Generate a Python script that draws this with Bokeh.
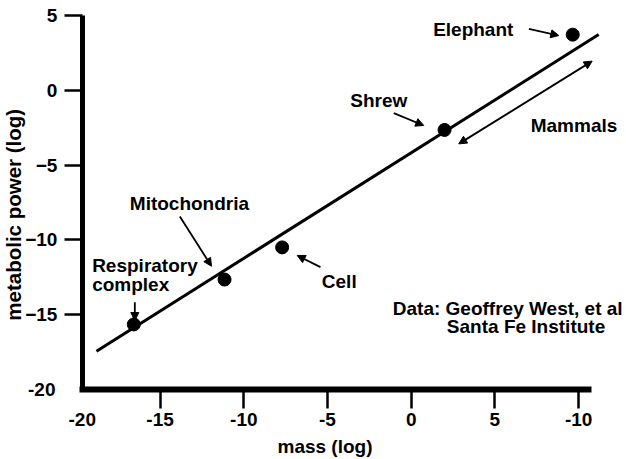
from bokeh.plotting import figure
from bokeh.models import Label, Arrow, NormalHead, FixedTicker, Range1d
from bokeh.embed import file_html
from bokeh.resources import INLINE

# ---- data ----
names = ["Respiratory complex", "Mitochondria", "Cell", "Shrew", "Elephant"]
mass_log = [-16.57, -11.15, -7.71, 1.99, 9.65]
power_log = [-15.65, -12.65, -10.5, -2.65, 3.72]

fit_x = [-18.8, 11.2]
fit_y = [-17.44, 3.73]

x_ticks = [-15, -10, -5, 0, 5, 10]
x_tick_labels = ["-15", "-10", "-5", "0", "5", "-10"]
y_ticks = [-15, -10, -5, 0, 5]
corner_label = "-20"

x_title = "mass (log)"
y_title = "metabolic power (log)"
group_label = "Mammals"
credit_1 = "Data: Geoffrey West, et al"
credit_2 = "Santa Fe Institute"

FONT = "Liberation Sans"
FS = "19px"

# the frame fills the whole canvas; axes are drawn at fixed data locations
p = figure(width=626, height=459, output_backend="svg", toolbar_location=None,
           x_range=Range1d(-24.534, 12.861), y_range=Range1d(-24.679, 6.003),
           min_border=0)
p.outline_line_color = None
p.xgrid.visible = False
p.ygrid.visible = False
p.background_fill_color = "white"
p.border_fill_color = "white"

for ax in (p.xaxis[0], p.yaxis[0]):
    ax.axis_line_color = "black"
    ax.major_tick_line_color = "black"
    ax.major_tick_line_width = 2.5
    ax.major_tick_in = 0
    ax.minor_tick_line_color = None
    ax.major_label_text_font = FONT
    ax.major_label_text_font_style = "bold"
    ax.major_label_text_font_size = FS
    ax.major_label_text_color = "black"

p.xaxis.fixed_location = -20
p.xaxis.axis_line_width = 6
p.xaxis.axis_line_cap = "square"
p.xaxis.bounds = (-19.64, 10.62)
p.xaxis.ticker = FixedTicker(ticks=x_ticks)
p.xaxis.major_label_overrides = {t: l for t, l in zip(x_ticks, x_tick_labels)}
p.xaxis.major_tick_out = 19
p.xaxis.major_label_standoff = 4

p.yaxis.fixed_location = -19.64
p.yaxis.axis_line_width = 5
p.yaxis.axis_line_cap = "butt"
p.yaxis.bounds = (-20, 5)
p.yaxis.ticker = FixedTicker(ticks=y_ticks)
p.yaxis.major_tick_out = 18
p.yaxis.major_label_standoff = 7

# fit line and points
p.line(fit_x, fit_y, line_color="black", line_width=3)
p.scatter(mass_log, power_log, size=13, marker="circle", fill_color="black", line_color="black")

def lab(x, y, text, align="left", baseline="alphabetic", angle=0, size=FS):
    p.add_layout(Label(x=x, y=y, text=text, text_font=FONT, text_font_style="bold",
                       text_font_size=size, text_color="black", text_align=align,
                       text_baseline=baseline, angle=angle))

# corner tick labels
lab(-19.65, -21.98, corner_label, align="center")
lab(-21.25, -20.0, corner_label, align="right", baseline="middle")

# axis titles
lab(-5.15, -23.81, x_title, align="center")
lab(-23.74, -8.32, y_title, align="center", angle=1.5707963, size="20.5px")

# annotations
lab(1.31, 4.06, names[4])
lab(-3.64, -0.65, names[3])
lab(7.14, -2.38, group_label)
lab(-16.81, -7.57, names[1])
lab(-19.06, -11.74, "Respiratory")
lab(-19.06, -12.95, "complex")
lab(-5.34, -12.79, names[2])
lab(-1.10, -14.57, credit_1)
lab(2.13, -15.80, credit_2)

def arrow(x0, y0, x1, y1, both=False):
    head = NormalHead(size=8, fill_color="black", line_color="black", line_width=1)
    start = NormalHead(size=8, fill_color="black", line_color="black", line_width=1) if both else None
    p.add_layout(Arrow(x_start=x0, y_start=y0, x_end=x1, y_end=y1, end=head, start=start,
                       line_color="black", line_width=1.8))

arrow(2.84, -3.58, 10.81, 1.95, both=True)   # Mammals
arrow(7.03, 4.11, 8.82, 3.66)                # Elephant
arrow(-1.04, -1.53, 0.75, -2.35)             # Shrew
arrow(-13.82, -8.44, -11.93, -11.76)         # Mitochondria
arrow(-16.51, -14.16, -16.51, -15.39)        # Respiratory complex
arrow(-5.42, -11.82, -6.81, -11.04)          # Cell

open("out.html", "w").write(file_html(p, INLINE))
